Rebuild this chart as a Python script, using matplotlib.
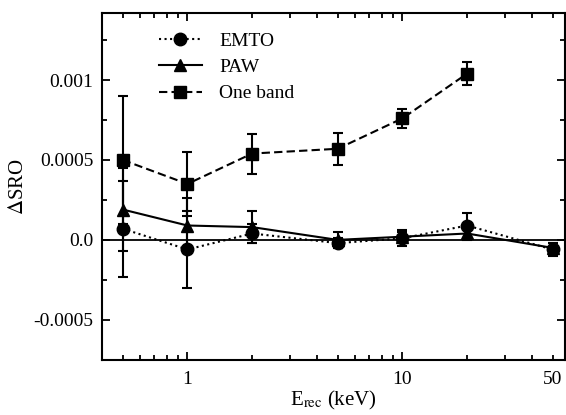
import matplotlib
matplotlib.use('Agg')
import matplotlib.pyplot as plt
import matplotlib.ticker as ticker

# recoil energy (keV)
e_rec = [0.5, 1, 2, 5, 10, 20, 50]
e_rec_oneband = [0.5, 1, 2, 5, 10, 20]

# delta SRO values and error bars
emto = [0.00007, -0.00006, 0.00004, -0.00002, 0.00001, 0.00009, -0.00006]
emto_err = [0.0003, 0.00024, 0.00006, 0.00003, 0.00005, 0.00008, 0.00004]
paw = [0.00019, 0.00009, 0.00008, 0.0, 0.00002, 0.00004, -0.00005]
paw_err = [0.00026, 0.00017, 0.0001, 0.00005, 0.00003, 0.00004, 0.00003]
oneband = [0.0005, 0.00035, 0.00054, 0.00057, 0.00076, 0.00104]
oneband_err = [0.0004, 0.0002, 0.000125, 0.0001, 0.00006, 0.00007]

labels = ['EMTO', 'PAW', 'One band']
yticks = [-0.0005, 0.0, 0.0005, 0.001]
ytick_labels = ['-0.0005', '0.0', '0.0005', '0.001']

plt.rcParams['font.family'] = ['Liberation Serif', 'DejaVu Serif']
plt.rcParams['mathtext.fontset'] = 'stix'

fig = plt.figure(figsize=(5.66, 4.15), dpi=100)
ax = fig.add_axes([0.180, 0.133, 0.818, 0.836])

ax.axhline(0.0, color='black', lw=1.3, zorder=1)

common = dict(color='black', ecolor='black', elinewidth=1.5, capsize=3.5,
              capthick=1.5, markersize=9, lw=1.5)
c1 = ax.errorbar(e_rec, emto, yerr=emto_err, marker='o', linestyle=':', **common)
c2 = ax.errorbar(e_rec, paw, yerr=paw_err, marker='^', linestyle='-', **common)
c3 = ax.errorbar(e_rec_oneband, oneband, yerr=oneband_err, marker='s', linestyle=(0, (4, 2)),
                 **common)

ax.set_xscale('log')
ax.set_xlim(0.4, 57)
ax.set_ylim(-0.00075, 0.00142)

ax.xaxis.set_major_locator(ticker.FixedLocator([1, 10]))
ax.xaxis.set_major_formatter(ticker.FixedFormatter(['1', '10']))
ax.xaxis.set_minor_locator(ticker.FixedLocator([0.5, 0.6, 0.7, 0.8, 0.9, 2, 3, 4, 5, 6, 7, 8, 9, 20, 30, 40, 50]))
ax.xaxis.set_minor_formatter(ticker.FuncFormatter(lambda v, p: '50' if abs(v - 50) < 1e-6 else ''))

ax.set_yticks(yticks)
ax.set_yticklabels(ytick_labels)
ax.yaxis.set_minor_locator(ticker.MultipleLocator(0.00025))

ax.tick_params(which='both', direction='in', top=True, right=True, labelsize=14, width=1.3)
ax.tick_params(which='major', length=6, pad=8)
ax.tick_params(which='minor', length=3.5, pad=8)
ax.tick_params(axis='y', which='both', pad=6)
for s in ax.spines.values():
    s.set_linewidth(1.5)

ax.set_xlabel(r'E$_{\rm rec}$ (keV)', fontsize=15, labelpad=1)
ax.set_ylabel(r'$\Delta$SRO', fontsize=15, labelpad=4)

ax.legend([c1[0], c2[0], c3[0]], labels, loc='upper left', bbox_to_anchor=(0.085, 0.995),
          frameon=False, fontsize=14, handlelength=2.2, handletextpad=0.9,
          labelspacing=0.45, borderaxespad=0.5)

fig.savefig('out.png', dpi=100)
